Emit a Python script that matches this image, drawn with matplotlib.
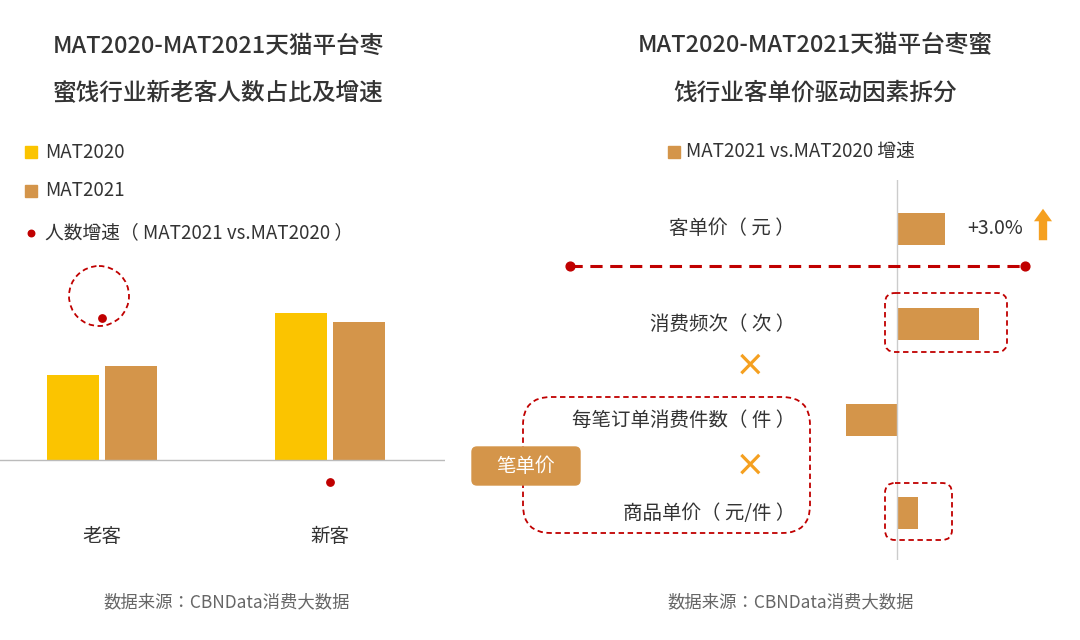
import matplotlib.pyplot as plt
from matplotlib.patches import FancyBboxPatch, Ellipse, Rectangle

plt.rcParams['font.family'] = ['Noto Sans CJK SC', 'Noto Sans CJK JP', 'Noto Sans CJK TC', 'DejaVu Sans']

# left chart data
groups = ['老客', '新客']
share_2020 = [36.6, 63.4]
share_2021 = [40.5, 59.5]
growth = [14.2, -2.2]   # 人数增速, %

# right chart data
factors = ['客单价（元）', '消费频次（次）', '每笔订单消费件数（件）', '商品单价（元/件）']
factor_growth = [3.0, 5.1, -3.2, 1.3]

c20 = '#fbc400'
c21 = '#d4954a'
red = '#c00000'
gray = '#666666'

W, H = 1080, 640
fig = plt.figure(figsize=(10.8, 6.4), dpi=100)

def box(x0, y0, x1, y1):
    return [x0 / W, 1 - y1 / H, (x1 - x0) / W, (y1 - y0) / H]

# ---- left bar chart
ax = fig.add_axes(box(0, 260, 445, 500))
xs = [0, 1]
off, bw = 0.127, 0.228
ax.bar([x - off for x in xs], [v * 2.32 for v in share_2020], bw, color=c20)
ax.bar([x + off for x in xs], [v * 2.32 for v in share_2021], bw, color=c21)
ax.set_xlim(-102 / 228, 343 / 228)
ax.set_ylim(-40, 200)
ax.axhline(0, color='#bbbbbb', lw=1)
ax.axis('off')
ax2 = ax.twinx()
ax2.set_ylim(-40 / 10, 200 / 10)
ax2.scatter(xs, growth, color=red, s=28, zorder=5)
ax2.axis('off')

# ---- right bar chart
axr = fig.add_axes(box(820, 180, 1060, 560))
ypos = [229, 324, 420, 513]
axr.barh(ypos, factor_growth, height=32, color=c21)
axr.set_xlim((820 - 897) / 16, (1060 - 897) / 16)
axr.set_ylim(560, 180)
axr.axvline(0, color='#cccccc', lw=1)
axr.axis('off')

# ---- overlay for text and decorations
ov = fig.add_axes([0, 0, 1, 1])
ov.set_xlim(0, W)
ov.set_ylim(H, 0)
ov.axis('off')

tkw = dict(fontsize=17, color='#333333', ha='center', va='center', fontweight='medium')
ov.text(218, 46, 'MAT2020-MAT2021天猫平台枣', **tkw)
ov.text(218, 93, '蜜饯行业新老客人数占比及增速', **tkw)
ov.text(815, 46, 'MAT2020-MAT2021天猫平台枣蜜', **tkw)
ov.text(815, 93, '饯行业客单价驱动因素拆分', **tkw)

for y, lab, col in [(152, 'MAT2020', c20), (191, 'MAT2021', c21)]:
    ov.add_patch(Rectangle((25, y - 6), 12, 12, color=col))
    ov.text(45, y, lab, fontsize=13.5, color='#333333', va='center')
ov.scatter([31], [233], color=red, s=22)
ov.text(45, 233, '人数增速（ MAT2021 vs.MAT2020 ）', fontsize=13.5, color='#333333', va='center')
ov.add_patch(Rectangle((668, 146), 12, 12, color=c21))
ov.text(686, 152, 'MAT2021 vs.MAT2020 增速', fontsize=13.5, color='#333333', va='center')

for x, g in zip([102, 330], groups):
    ov.text(x, 537, g, fontsize=14, color='#333333', ha='center', va='center')
ov.add_patch(Ellipse((99, 296), 60, 60, fill=False, ec=red, ls=(0, (3, 2)), lw=1.3))

for y, f in zip(ypos, factors):
    ov.text(795, y, f.replace('（', '（ ').replace('）', ' ）'), fontsize=14,
            color='#333333', ha='right', va='center')
ov.text(995, 229, '+3.0%', fontsize=14, color='#333333', ha='center', va='center')
ov.annotate('', xy=(1043, 206), xytext=(1043, 243),
            arrowprops=dict(arrowstyle='simple,head_width=1.3,head_length=0.9,tail_width=0.6',
                            color='#f5a020', lw=0))

ov.plot([570, 1025], [266, 266], color=red, ls=(0, (4, 2.5)), lw=2.2)
ov.scatter([570, 1025], [266, 266], color=red, s=40, zorder=5)

dkw = dict(fill=False, ec=red, ls=(0, (3, 2)), lw=1.3)
ov.add_patch(FancyBboxPatch((885, 293), 122, 59, boxstyle='round,pad=0,rounding_size=10', **dkw))
ov.add_patch(FancyBboxPatch((885, 483), 67, 57, boxstyle='round,pad=0,rounding_size=10', **dkw))
ov.add_patch(FancyBboxPatch((523, 397), 287, 136, boxstyle='round,pad=0,rounding_size=28', **dkw))

for y in [367, 467]:
    ov.text(750, y, '×', fontsize=22, color='#f5a020', ha='center', va='center', fontweight='bold')
ov.add_patch(FancyBboxPatch((472, 447), 108, 38, boxstyle='round,pad=0,rounding_size=5', color='#d4954a'))
ov.text(526, 466, '笔单价', fontsize=14, color='white', ha='center', va='center')

ov.text(227, 602, '数据来源：CBNData消费大数据', fontsize=12.5, color=gray, ha='center', va='center')
ov.text(791, 602, '数据来源：CBNData消费大数据', fontsize=12.5, color=gray, ha='center', va='center')

fig.savefig('out.png', dpi=100)
